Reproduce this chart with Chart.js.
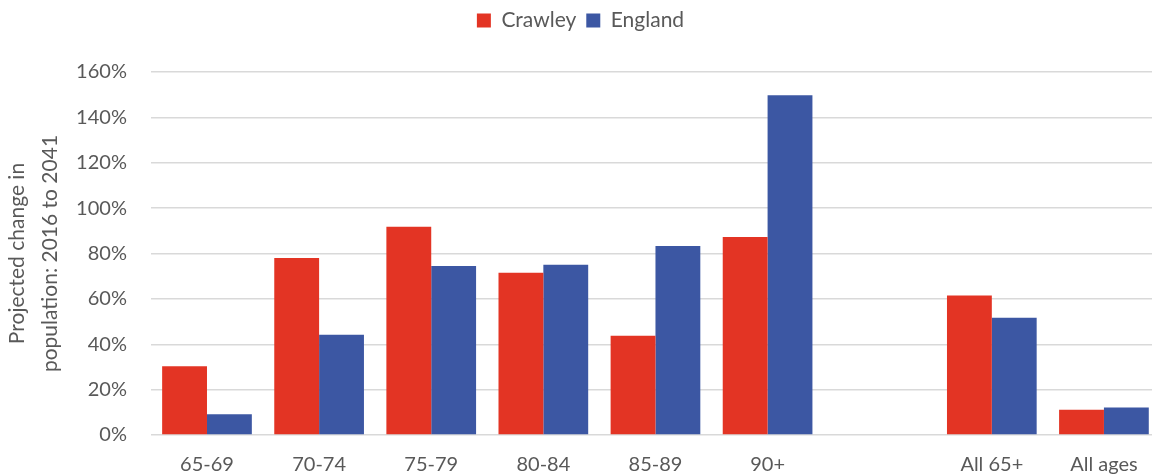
<!DOCTYPE html>
<html>
<head>
<meta charset="utf-8">
<script src="https://cdn.jsdelivr.net/npm/chart.js@4/dist/chart.umd.min.js"></script>
<style>
  html, body { margin: 0; padding: 0; background: #fff; overflow: hidden; }
  /* the original picture is cropped a little on the right */
  #wrap { width: 1160px; height: 475px; }
</style>
</head>
<body>
<div id="wrap"><canvas id="chart"></canvas></div>
<script>
const categories = ['65-69', '70-74', '75-79', '80-84', '85-89', '90+', '', 'All 65+', 'All ages'];
const crawley = [30.3, 78, 91.8, 71.5, 43.7, 87.3, null, 61.5, 11.1];
const england = [9.2, 44.2, 74.5, 75, 83.3, 149.7, null, 51.7, 12.1];
const yTitle = ['Projected change in', 'population: 2016 to 2041'];

const textColor = '#595959';
const fontFamily = 'Lato, "Open Sans", sans-serif';

// push the plot down below the legend
const legendGap = {
    id: 'legendGap',
    beforeInit(chart) {
        const fit = chart.legend.fit;
        chart.legend.fit = function () {
            fit.bind(chart.legend)();
            this.height += 31;
        };
    }
};

new Chart(document.getElementById('chart').getContext('2d'), {
    type: 'bar',
    data: {
        labels: categories,
        datasets: [{
            label: 'Crawley',
            data: crawley,
            backgroundColor: '#E33424'
        }, {
            label: 'England',
            data: england,
            backgroundColor: '#3C57A3'
        }]
    },
    plugins: [legendGap],
    options: {
        responsive: true,
        maintainAspectRatio: false,
        animation: false,
        categoryPercentage: 0.8,
        barPercentage: 1,
        layout: { padding: { left: 1, right: 0, top: 0, bottom: -12 } },
        plugins: {
            legend: {
                position: 'top',
                labels: {
                    color: textColor,
                    font: { family: fontFamily, size: 21 },
                    boxWidth: 14,
                    boxHeight: 14,
                    padding: 10
                }
            },
            tooltip: { enabled: false }
        },
        scales: {
            x: {
                grid: { display: false },
                border: { display: false },
                ticks: {
                    color: textColor,
                    font: { family: fontFamily, size: 20 },
                    padding: 10,
                    maxRotation: 0,
                    autoSkip: false
                }
            },
            y: {
                min: 0,
                max: 160,
                ticks: {
                    stepSize: 20,
                    color: textColor,
                    font: { family: fontFamily, size: 20 },
                    padding: 24,
                    callback: v => v + '%'
                },
                grid: {
                    color: '#d9d9d9',
                    lineWidth: 1.5,
                    drawTicks: false
                },
                border: { display: false },
                title: {
                    display: true,
                    text: yTitle,
                    color: textColor,
                    font: { family: fontFamily, size: 21, lineHeight: 1.55 },
                    padding: { top: 0, bottom: -14 }
                }
            }
        }
    }
});
</script>
</body>
</html>
